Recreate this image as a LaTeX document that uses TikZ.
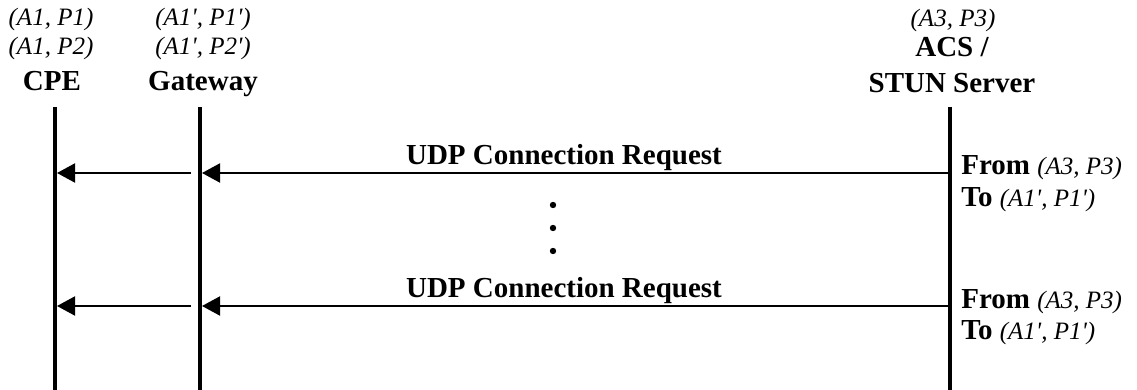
\documentclass[tikz,border=0pt]{standalone}
\usepackage{fontspec}
\setmainfont{Liberation Serif}
\usetikzlibrary{arrows.meta}

\newcommand{\addrtext}[1]{{\mdseries\itshape\fontsize{12.5}{14}\selectfont #1}}
\newcommand{\pr}{\textquotesingle}

\tikzset{
  addr/.style={font=\fontsize{12.5}{14}\selectfont\itshape, inner sep=0pt, anchor=base},
  role/.style={font=\fontsize{14.5}{16}\selectfont\bfseries, inner sep=0pt, anchor=base},
  lifeline/.style={line width=2pt},
  msg/.style={line width=1pt, -{Triangle[length=9pt,width=9.5pt]}},
}

\begin{document}
\begin{tikzpicture}[x=0.5pt, y=-0.5pt]
            \useasboundingbox (0,0) rectangle (1137,390);

            % column heads
            \node[addr] (cpeA) at (51,26) {(A1, P1)};
            \node[addr] (cpeB) at (51,55) {(A1, P2)};
            \node[role] (cpe) at (52,91) {CPE};
            \node[addr] (gwA) at (203,26) {(A1\pr, P1\pr)};
            \node[addr] (gwB) at (203,55) {(A1\pr, P2\pr)};
            \node[role] (gw) at (203,91) {Gateway};
            \node[addr] (acsA) at (953,27) {(A3, P3)};
            \node[role] (acs) at (952,57) {ACS /};
            \node[role] (stun) at (952,93) {STUN Server};

            % lifelines
            \coordinate (cpeTop) at (55,107); \coordinate (cpeBot) at (55,390);
            \coordinate (gwTop) at (200,107); \coordinate (gwBot) at (200,390);
            \coordinate (acsTop) at (950,107); \coordinate (acsBot) at (950,390);
            \draw[lifeline] (cpeTop) -- (cpeBot);
            \draw[lifeline] (gwTop) -- (gwBot);
            \draw[lifeline] (acsTop) -- (acsBot);

            % messages
            \coordinate (acsOne) at (949,173); \coordinate (gwInOne) at (202,173);
            \coordinate (gwOutOne) at (191,173); \coordinate (cpeInOne) at (57,173);
            \coordinate (acsTwo) at (949,306); \coordinate (gwInTwo) at (202,306);
            \coordinate (gwOutTwo) at (191,306); \coordinate (cpeInTwo) at (57,306);

            \draw[msg] (acsOne) to (gwInOne); \draw[msg] (gwOutOne) to (cpeInOne);
            \draw[msg] (acsTwo) to (gwInTwo); \draw[msg] (gwOutTwo) to (cpeInTwo);

            \node[role] (reqOne) at (564,165) {UDP Connection Request};
            \node[role] (reqTwo) at (564,298) {UDP Connection Request};

            \node[role, anchor=base west] (fromOne) at (961,175) {From \addrtext{(A3, P3)}};
            \node[role, anchor=base west] (toOne) at (961,206) {To \addrtext{(A1\pr, P1\pr)}};
            \node[role, anchor=base west] (fromTwo) at (961,308) {From \addrtext{(A3, P3)}};
            \node[role, anchor=base west] (toTwo) at (961,339) {To \addrtext{(A1\pr, P1\pr)}};

            % more requests in between
            \fill (553,205) circle (3.2) (553,228) circle (3.2) (553,251) circle (3.2);
        \end{tikzpicture}
\end{document}
